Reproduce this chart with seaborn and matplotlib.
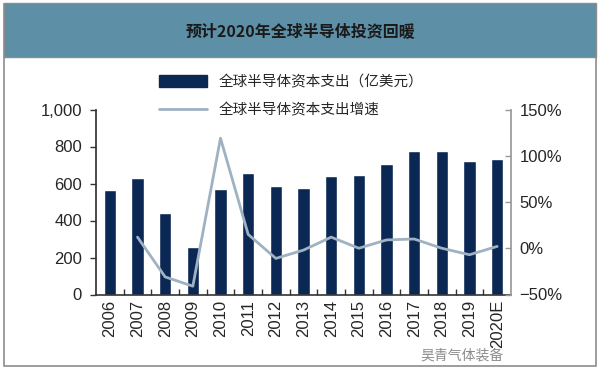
import matplotlib
matplotlib.use('Agg')
import matplotlib.pyplot as plt
from matplotlib.patches import Rectangle, Patch
from matplotlib.lines import Line2D
from matplotlib.ticker import StrMethodFormatter, PercentFormatter, FixedLocator
import numpy as np
import pandas as pd
import seaborn as sns

years = ['2006', '2007', '2008', '2009', '2010', '2011', '2012', '2013',
         '2014', '2015', '2016', '2017', '2018', '2019', '2020E']
capex = [564, 632, 438, 258, 568, 658, 586, 578,
         643, 647, 706, 777, 773, 719, 731]
growth = [np.nan, 12, -31, -41, 119, 15, -11, -2,
          12, 0, 9, 10, 0, -7, 2]

title = '预计2020年全球半导体投资回暖'
bar_label = '全球半导体资本支出（亿美元）'
line_label = '全球半导体资本支出增速'
watermark = '昊青气体装备'

BAR = '#0b2855'
LINE = '#9eb2c3'
BAND = '#5d8fa7'

sns.set_theme(style='white')
plt.rcParams['font.family'] = ['Liberation Sans', 'Noto Sans CJK SC', 'DejaVu Sans']

df = pd.DataFrame({'year': years, 'capex': capex, 'growth': growth})

fig = plt.figure(figsize=(6, 3.69), dpi=100)

# outer frame and title band
fig.patches.append(Rectangle((4 / 600, 3 / 369), 592 / 600, 362 / 369,
                             transform=fig.transFigure, fill=False,
                             edgecolor='#8c8c8c', lw=1.2, zorder=0))
fig.patches.append(Rectangle((4 / 600, 1 - 57 / 369), 592 / 600, 54 / 369,
                             transform=fig.transFigure, facecolor=BAND,
                             edgecolor='#8c8c8c', lw=1.0, zorder=0))
fig.text(0.5, 1 - 31 / 369, title, ha='center', va='center', fontsize=11.5,
         fontweight='bold', color='#1a1a1a',
         family=['Noto Sans CJK SC', 'DejaVu Sans'])

ax = fig.add_axes([96 / 600, 1 - 294.5 / 369, 415 / 600, 185 / 369])
sns.barplot(data=df, x='year', y='capex', color=BAR, width=0.45,
            saturation=1, ax=ax)
ax.set_ylim(0, 1000)
ax.set_xlim(-0.5, len(years) - 0.5)
ax.set_yticks([0, 200, 400, 600, 800, 1000])
ax.yaxis.set_major_formatter(StrMethodFormatter('{x:,.0f}'))
ax.set_xlabel('')
ax.set_ylabel('')
ax.tick_params(axis='x', rotation=90, labelsize=12, pad=4, length=0)
ax.tick_params(axis='y', labelsize=12, length=4, width=1, color='#333333',
               direction='out', left=True, pad=6)
ax.xaxis.set_minor_locator(FixedLocator(np.arange(0.5, len(years) - 1, 1)))
ax.tick_params(axis='x', which='minor', bottom=True, direction='in',
               length=4, width=1, color='#333333')
ax.spines['top'].set_visible(False)
ax.spines['right'].set_visible(False)
ax.spines['left'].set_color('#333333')
ax.spines['bottom'].set_color('#333333')
ax.spines['bottom'].set_linewidth(1.2)

ax2 = ax.twinx()
sns.lineplot(x=np.arange(len(years)), y=df['growth'], color=LINE, lw=2,
             ax=ax2)
ax2.set_ylim(-50, 150)
ax2.set_yticks([-50, 0, 50, 100, 150])
ax2.yaxis.set_major_formatter(PercentFormatter(decimals=0))
ax2.set_ylabel('')
ax2.tick_params(axis='y', labelsize=12, length=4, width=1, color='#999999',
                direction='in', right=True, pad=6)
for s in ['top', 'left', 'bottom']:
    ax2.spines[s].set_visible(False)
ax2.spines['right'].set_color('#999999')
ax2.grid(False)
ax.grid(False)

handles = [Patch(facecolor=BAR, edgecolor=BAR),
           Line2D([0], [0], color=LINE, lw=2)]
fig.legend(handles, [bar_label, line_label], loc='upper left',
           bbox_to_anchor=(146 / 600, 1 - 62 / 369), frameon=False,
           handlelength=3.3, handleheight=0.9,
           labelspacing=0.95, handletextpad=0.8,
           prop={'family': ['Noto Sans CJK SC', 'DejaVu Sans'], 'size': 10.5})

fig.text(462 / 600, 1 - 356 / 369, watermark, ha='center', va='center',
         fontsize=10, color='#777777', alpha=0.85,
         family=['Noto Sans CJK SC', 'DejaVu Sans'])

fig.savefig('out.png', dpi=100)
